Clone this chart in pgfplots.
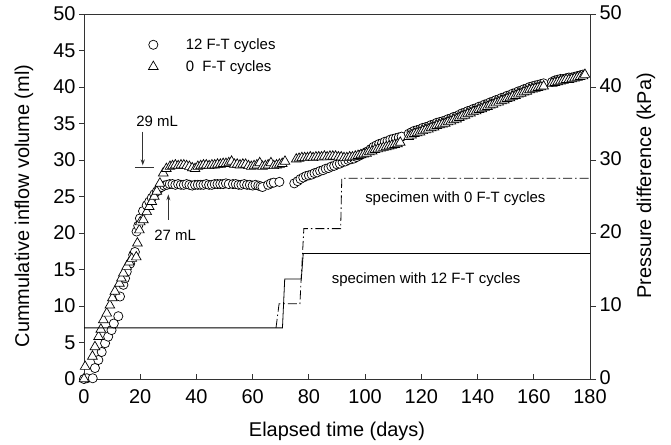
\documentclass[border=0pt]{standalone}
\usepackage{pgfplots}
\pgfplotsset{compat=1.18}
\usepackage{fontspec}
\setmainfont{Liberation Sans}
\usetikzlibrary{arrows.meta}

\pgfplotstableread{
x y
0 0
1 0.1
3.1 0.1
3.9 1.5
5.1 2.6
6.3 3.7
7.5 4.9
8.6 5.8
9.8 6.7
10.6 7.6
12.2 8.6
12.8 11.3
14.0 12.9
14.6 13.8
15.2 14.7
16.4 15.8
17.5 17.0
18.1 17.4
18.7 20.2
19.3 21.0
19.9 22.0
21.0 23.0
22.3 23.8
23.2 24.3
24.1 24.8
25.0 25.3
25.9 25.7
26.8 26.1
27.6 26.3
28.5 26.5
29.5 26.6
30.5 26.7
31.5 26.7
32.5 26.6
33.5 26.7
34.5 26.6
35.5 26.6
36.5 26.7
37.5 26.6
38.5 26.5
39.5 26.6
40.5 26.6
41.5 26.6
42.5 26.6
43.5 26.7
44.5 26.6
45.5 26.6
46.5 26.7
47.5 26.7
48.5 26.7
49.5 26.7
50.5 26.8
51.5 26.7
53 26.7
54 26.7
55 26.6
56 26.6
57 26.7
58 26.6
59 26.6
60 26.5
61 26.6
62 26.5
62.8 26.4
63.5 26.3
65.5 26.6
66.5 26.8
67.5 26.9
69.5 27.0
74.8 26.8
76 27.1
77 27.4
78 27.6
79 27.8
80 27.9
81 28.0
82 28.2
83 28.3
84 28.5
85 28.6
86 28.8
87 28.9
88 29.1
89 29.2
90 29.4
91 29.5
92 29.7
93 29.8
94 30.0
95 30.1
96 30.2
97 30.4
98 30.6
99 30.8
100 31.0
101 31.2
102 31.5
103 31.8
104 32.0
105 32.2
106 32.3
107 32.5
108 32.6
109 32.8
110 32.9
111 33.0
112 33.1
113 33.2
115.5 33.6
116.5 33.8
117.5 34.0
118.5 34.1
119.5 34.2
120.5 34.4
121.5 34.5
122.5 34.6
123.5 34.8
124.5 34.9
125.5 35.1
126.5 35.2
127.5 35.3
128.5 35.4
129.5 35.6
130.5 35.7
131.5 35.9
132.5 36.0
133.5 36.2
134.5 36.4
135.5 36.5
136.5 36.7
137.5 36.8
138.5 37.0
139.5 37.1
140.5 37.3
141.5 37.4
142.5 37.6
143.5 37.7
144.5 37.9
145.5 38.0
146.5 38.2
147.5 38.3
148.5 38.5
149.5 38.6
150.5 38.8
151.5 38.9
152.5 39.1
153.5 39.2
154.5 39.4
155.5 39.5
156.5 39.7
157.5 39.8
158.5 40.0
159.5 40.1
160.5 40.2
161.5 40.3
162.5 40.4
163.5 40.5
166.5 40.7
167.5 40.9
168.5 41.0
169.5 41.1
170.5 41.1
171.5 41.2
172.5 41.3
173.5 41.3
174.5 41.4
175.5 41.5
176.5 41.6
177.5 41.7
}\twelveft

\pgfplotstableread{
x y
0 0
0.4 1.7
3.0 3.1
3.9 4.4
5.2 5.8
6.0 6.8
6.9 8.1
8.1 9.0
9.2 10.1
10.1 11.1
11.0 12.0
12.6 13.1
13.3 13.8
14.0 14.5
15.2 15.4
16.1 16.0
17.0 16.5
18.6 16.7
19.0 18.6
19.7 20.4
20.0 21.5
21.1 21.8
22.3 22.9
23.2 23.6
24.1 24.3
25.0 25.0
25.9 25.7
27.0 26.8
28.2 28.2
29.3 28.8
30.6 29.1
31.5 29.2
32.5 29.3
33.5 29.2
34.5 29.3
35.5 29.3
36.5 29.2
37.5 29.1
38.5 28.9
39.5 28.8
40.5 29.1
41.5 29.2
42.5 29.3
43.5 29.3
44.5 29.2
45.5 29.3
46.5 29.3
47.5 29.4
48.5 29.4
49.5 29.5
50.5 29.5
51.5 29.6
52.5 29.8
53.5 29.4
54.5 29.4
55.5 29.3
56.5 29.4
57.5 29.4
58.5 29.2
59.5 29.1
60.5 29.2
61.5 29.3
62.5 29.6
63.5 29.1
64.5 29.2
65.5 29.3
66.5 29.6
67.5 29.2
68.5 29.3
69.5 29.4
70.5 29.5
71.5 29.8
75.5 30.1
76.5 30.2
77.5 30.3
78.5 30.3
79.5 30.3
80.5 30.4
81.5 30.3
82.5 30.4
83.5 30.4
84.5 30.4
85.5 30.5
86.5 30.4
87.5 30.5
88.5 30.5
89.5 30.5
90.5 30.4
91.5 30.4
92.5 30.3
93.5 30.3
94.5 30.4
95.5 30.4
96.5 30.5
97.5 30.6
98.5 30.7
99.5 30.8
100.5 30.9
101.5 31.1
102.5 31.2
103.5 31.4
104.5 31.5
105.5 31.6
106.5 31.7
107.5 31.8
108.5 31.9
109.5 32.0
110.5 32.1
111.5 32.2
112.5 32.4
115.5 33.2
116.5 33.4
117.5 33.6
118.5 33.7
119.5 33.8
120.5 34.0
121.5 34.1
122.5 34.2
123.5 34.4
124.5 34.5
125.5 34.7
126.5 34.8
127.5 34.9
128.5 35.0
129.5 35.2
130.5 35.3
131.5 35.5
132.5 35.6
133.5 35.8
134.5 36.0
135.5 36.1
136.5 36.3
137.5 36.4
138.5 36.6
139.5 36.7
140.5 36.9
141.5 37.0
142.5 37.2
143.5 37.3
144.5 37.5
145.5 37.6
146.5 37.8
147.5 37.9
148.5 38.1
149.5 38.2
150.5 38.4
151.5 38.5
152.5 38.7
153.5 38.8
154.5 39.0
155.5 39.1
156.5 39.3
157.5 39.4
158.5 39.6
159.5 39.7
160.5 39.8
161.5 39.9
162.5 40.0
163.5 40.1
166.5 40.5
167.5 40.6
168.5 40.7
169.5 40.8
170.5 40.9
171.5 41.0
172.5 41.0
173.5 41.1
174.5 41.2
175.5 41.3
176.5 41.4
177.5 41.5
178.2 41.7
}\zeroft

\pgfplotstableread{
x y
0 7
70.6 7
71.4 13.7
77.3 13.7
78.0 17.2
180 17.2
}\ptwelve

\pgfplotstableread{
x y
68.3 7
69.4 10.3
76.8 10.3
78.2 20.6
91.3 20.6
91.7 27.5
180 27.5
}\pzero

\begin{document}
\begin{tikzpicture}
\useasboundingbox (0,0) rectangle (671bp,445bp);
\begin{axis}[
  at={(84bp,66bp)}, anchor=south west,
  scale only axis, width=506bp, height=365bp,
  xmin=0, xmax=180, ymin=0, ymax=50,
  xtick={0,20,...,180}, ytick={0,5,...,50},
  xtick pos=bottom, ytick pos=left,
  xtick align=inside, ytick align=outside,
  major tick length=5bp,
  tick style={black!80, line width=0.8bp},
  axis line style={black!80, line width=0.9bp},
  /pgf/number format/assume math mode=true,
  tick label style={font=\fontsize{20}{24}\selectfont},
  xticklabel style={yshift=-7bp},
  label style={font=\fontsize{20}{24}\selectfont},
  xlabel={Elapsed time (days)},
  ylabel={Cummulative inflow volume (ml)},
  xlabel style={at={(axis description cs:0.5,-0.1425)}, anchor=center},
  ylabel style={at={(axis description cs:-0.1186,0.474)}, anchor=center, rotate=0},
  clip=false,
  legend style={at={(axis cs:21.4,47.2)}, anchor=north west, draw=none, fill=none,
    font=\fontsize{15}{18}\selectfont, row sep=5.6bp},
  legend cell align=left,
  legend image code/.code={\path[draw=none,fill=none] (-6bp,-6bp) rectangle (30.5bp,6bp); \draw[#1] plot coordinates {(0bp,0bp)};},
]
\addplot[only marks, mark=*, mark size=4.6bp, mark options={fill=white, draw=black, line width=0.7bp}] table {\twelveft};
\addlegendentry{12 F-T cycles}
\addplot[only marks, mark=triangle*, mark size=5.6bp, mark options={fill=white, draw=black, line width=0.7bp}] table {\zeroft};
\addlegendentry{0\ \ F-T cycles}
\draw[-{Stealth[length=6bp,width=4bp]}, line width=0.8bp, black!80] (axis cs:20.9,33.9) -- (axis cs:20.9,29.25);
\draw[line width=0.9bp, black!80] (axis cs:18.1,29) -- (axis cs:24.9,29);
\draw[-{Stealth[length=6bp,width=4bp]}, line width=0.8bp, black!80] (axis cs:30,21.8) -- (axis cs:30,25.3);
\node[font=\fontsize{15}{18}\selectfont] at (axis cs:26,35.3) {29 mL};
\node[font=\fontsize{15}{18}\selectfont] at (axis cs:32.4,19.7) {27 mL};
\node[font=\fontsize{15}{18}\selectfont, anchor=west] at (axis cs:98.8,24.7) {specimen with 0 F-T cycles};
\node[font=\fontsize{15}{18}\selectfont, anchor=west] at (axis cs:86.9,13.6) {specimen with 12 F-T cycles};
\end{axis}
\begin{axis}[
  at={(84bp,66bp)}, anchor=south west,
  scale only axis, width=506bp, height=365bp,
  xmin=0, xmax=180, ymin=0, ymax=50,
  axis x line=none, axis y line*=right,
  ytick={0,10,...,50},
  ytick align=outside,
  major tick length=6bp,
  tick style={black!80, line width=0.8bp},
  axis line style={black!80, line width=0.9bp},
  /pgf/number format/assume math mode=true,
  tick label style={font=\fontsize{20}{24}\selectfont},
  yticklabel style={yshift=1bp},
  label style={font=\fontsize{20}{24}\selectfont},
  ylabel={Pressure difference (kPa)},
  ylabel style={at={(axis description cs:1.1107,0.529)}, anchor=center, rotate=0},
]
\addplot[black, line width=0.8bp] table {\ptwelve};
\addplot[black, line width=0.8bp, dash pattern=on 9bp off 3bp on 1.5bp off 3bp] table {\pzero};
\end{axis}
\end{tikzpicture}
\end{document}
